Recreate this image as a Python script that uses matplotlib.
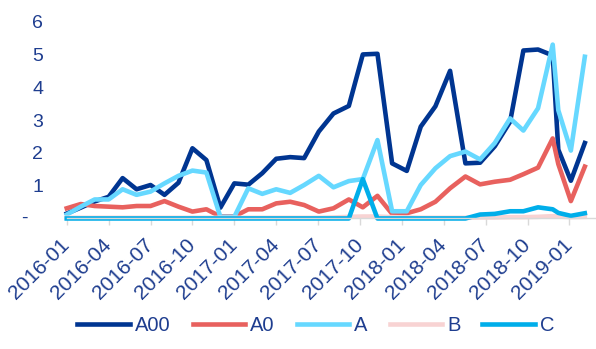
import matplotlib
matplotlib.use("Agg")
import matplotlib.pyplot as plt

plt.rcParams['font.family'] = ['Liberation Sans', 'DejaVu Sans']

# position of each observation in months counted from 2016-01
month_pos = [0, 1, 2, 3, 4, 5, 6, 7, 8, 9, 10, 11, 12, 13, 14, 15, 16,
             17.0, 18.05, 19.1, 20.2, 21.2, 22.25, 23.3, 24.35, 25.35, 26.4,
             27.45, 28.55, 29.6, 30.65, 31.75, 32.7, 33.75, 34.8, 35.2, 36.1, 37.1]

a00 = [0.15, 0.33, 0.52, 0.66, 1.23, 0.89, 1.02, 0.72, 1.09, 2.14, 1.78, 0.33,
       1.07, 1.03, 1.38, 1.82, 1.87, 1.84, 2.65, 3.20, 3.43, 5.00, 5.02, 1.68,
       1.45, 2.80, 3.42, 4.50, 1.68, 1.70, 2.20, 2.95, 5.12, 5.15, 4.97, 2.10,
       1.15, 2.30]
a0 = [0.31, 0.44, 0.38, 0.36, 0.34, 0.38, 0.38, 0.53, 0.36, 0.21, 0.28, 0.06,
      0.06, 0.28, 0.28, 0.46, 0.51, 0.41, 0.21, 0.31, 0.58, 0.34, 0.69, 0.14,
      0.16, 0.28, 0.51, 0.92, 1.28, 1.04, 1.12, 1.18, 1.35, 1.55, 2.44, 1.66,
      0.53, 1.58]
a = [0.12, 0.36, 0.58, 0.58, 0.89, 0.72, 0.82, 1.07, 1.30, 1.46, 1.40, 0.05,
     0.05, 0.92, 0.75, 0.89, 0.78, 1.02, 1.30, 0.95, 1.14, 1.20, 2.39, 0.22,
     0.22, 1.02, 1.53, 1.90, 2.04, 1.80, 2.30, 3.05, 2.68, 3.36, 5.30, 3.30,
     2.07, 4.93]
b = [0.02, 0.02, 0.02, 0.02, 0.02, 0.02, 0.02, 0.02, 0.02, 0.02, 0.02, 0.02,
     0.02, 0.02, 0.02, 0.02, 0.02, 0.02, 0.02, 0.03, 0.05, 0.06, 0.06, 0.04,
     0.03, 0.02, 0.02, 0.02, 0.02, 0.03, 0.03, 0.04, 0.04, 0.05, 0.07, 0.06,
     0.04, 0.05]
c = [0, 0, 0, 0, 0, 0, 0, 0, 0, 0, 0, 0, 0, 0, 0, 0, 0, 0, 0, 0, 0, 1.20,
     0, 0, 0, 0, 0, 0, 0, 0.12, 0.14, 0.22, 0.22, 0.34, 0.28, 0.17, 0.08, 0.16]

tick_pos = [0, 3, 6, 9, 12, 15, 18, 21, 24, 27, 30, 33, 36]
tick_labels = ['2016-01', '2016-04', '2016-07', '2016-10', '2017-01', '2017-04',
               '2017-07', '2017-10', '2018-01', '2018-04', '2018-07', '2018-10',
               '2019-01']
y_ticks = [0, 1, 2, 3, 4, 5, 6]
y_labels = ['', '1', '2', '3', '4', '5', '6']
zero_label = '-'

series = [('A00', a00, '#003591'),
          ('A0', a0, '#E8615E'),
          ('A', a, '#66D8FF'),
          ('B', b, '#F8D3D3'),
          ('C', c, '#00AEEA')]

text_col = '#1E3D8F'

fig = plt.figure(figsize=(5.96, 3.49), dpi=100)
ax = fig.add_axes([0.112, 0.374, 0.888, 0.564])

for name, vals, col in series:
    ax.plot(month_pos, vals, color=col, lw=3.3, label=name, clip_on=False)

ax.set_xlim(0, 37.9)
ax.set_ylim(0, 6)

ax.set_yticks(y_ticks)
ax.set_yticklabels(y_labels)
ax.set_xticks(tick_pos)
ax.set_xticklabels(tick_labels, rotation=45, ha='right', va='center',
                   rotation_mode='anchor')

ax.tick_params(axis='y', length=0, pad=17, labelsize=14, labelcolor=text_col)
ax.tick_params(axis='x', length=5, width=1, color='#D9D9D9', pad=12,
               labelsize=15, labelcolor=text_col)

# zero is shown as a dash, set further left than the digits
ax.annotate(zero_label, xy=(0, 0), xycoords=('axes fraction', 'data'),
            xytext=(-39, 0), textcoords='offset pixels', ha='right', va='center',
            fontsize=14, color=text_col)

for side in ['top', 'right', 'left']:
    ax.spines[side].set_visible(False)
ax.spines['bottom'].set_color('#D9D9D9')
ax.spines['bottom'].set_linewidth(1)

fig.legend(loc='center', bbox_to_anchor=(0.53, 0.066), ncol=5, frameon=False,
           fontsize=14.5, labelcolor=text_col, handlelength=2.6,
           handletextpad=0.25, columnspacing=1.1)

fig.savefig('out.png', dpi=100)
